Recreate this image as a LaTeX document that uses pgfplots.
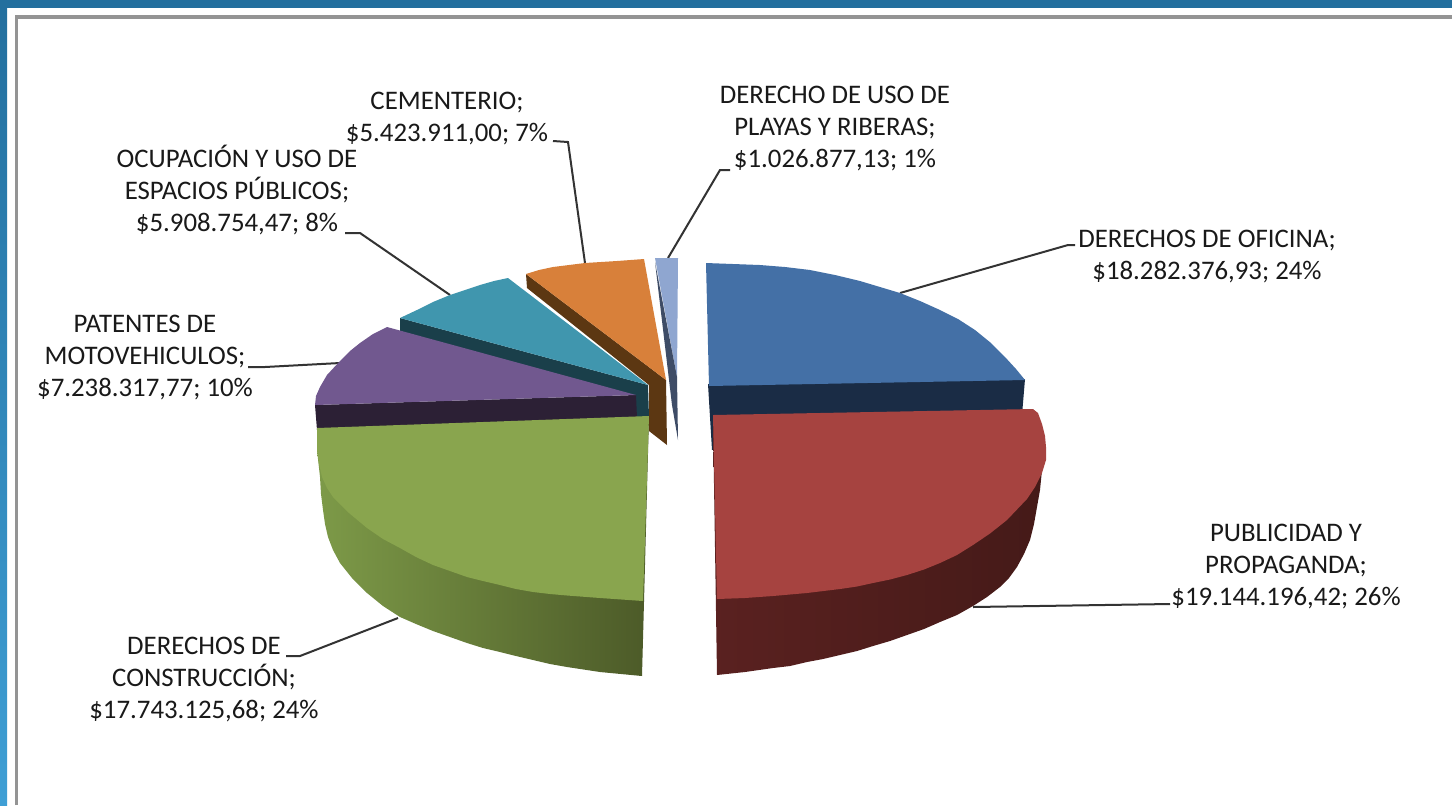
\documentclass[border=0pt]{standalone}
\usepackage{fontspec}
\setmainfont{Carlito}
\usepackage{pgfplots}
\pgfplotsset{compat=1.18}
\definecolor{frameblue}{HTML}{236F9E}
\definecolor{framelight}{HTML}{3F9FD5}
\definecolor{bluetop}{HTML}{4470A6}
\definecolor{blueside}{HTML}{1A2C45}
\definecolor{redtop}{HTML}{A64340}
\definecolor{redsideL}{HTML}{5A2120}
\definecolor{redsideR}{HTML}{451A18}
\definecolor{greentop}{HTML}{89A54E}
\definecolor{greensideL}{HTML}{7D9A48}
\definecolor{greensideM}{HTML}{66803A}
\definecolor{greensideR}{HTML}{4C5A28}
\definecolor{purpletop}{HTML}{71588F}
\definecolor{purpleside}{HTML}{2C2035}
\definecolor{tealtop}{HTML}{4096AE}
\definecolor{tealside}{HTML}{1A3F4A}
\definecolor{orangetop}{HTML}{D8803A}
\definecolor{orangeside}{HTML}{5C3712}
\definecolor{paletop}{HTML}{8FA6D0}
\definecolor{paleside}{HTML}{3E4C66}
\definecolor{leader}{HTML}{333333}
\tikzset{lbl/.style={font=\fontsize{13.4}{16}\selectfont, text=black!90, align=center, inner sep=0pt}}

\begin{document}
\begin{tikzpicture}
\begin{axis}[
    hide axis,
    scale only axis,
    width=726pt,
    height=402.5pt,
    xmin=0, xmax=1452,
    ymin=0, ymax=805,
    y dir=reverse,
    enlargelimits=false,
]
% frame and panel, all in picture pixels
\addplot[fill=white, draw=none] coordinates {(0,0) (1452,0) (1452,805) (0,805)} -- cycle;
\addplot[draw=none, top color=frameblue, bottom color=framelight] coordinates {(0,0) (7,0) (7,805) (0,805)} -- cycle;
\addplot[fill=frameblue, draw=none] coordinates {(0,0) (1452,0) (1452,8) (0,8)} -- cycle;
\addplot[draw=black!42, line width=1.6pt] coordinates {(16.5,805) (16.5,17) (1452,17)};

% leader lines
\addplot[leader, line width=1pt] coordinates {(900,293) (1068,245) (1075,245)};
\addplot[leader, line width=1pt] coordinates {(973,607) (1170,604)};
\addplot[leader, line width=1pt] coordinates {(398,618) (300,656) (286,656)};
\addplot[leader, line width=1pt] coordinates {(340,363) (265,367) (248,367)};
\addplot[leader, line width=1pt] coordinates {(450,295) (360,233) (345,233)};
\addplot[leader, line width=1pt] coordinates {(585,263) (568,142) (553,141)};
\addplot[leader, line width=1pt] coordinates {(668,258) (720,170) (730,170)};

% small slice
\addplot[fill=paletop, draw=none] coordinates {(655,258) (678,258) (677,377)} -- cycle;
\addplot[fill=paleside, draw=none] coordinates {(655,262) (677,377) (678,440) (672,405)} -- cycle;

% orange
\addplot[fill=orangeside, draw=none] coordinates {(526,274) (666,380) (667,445) (649,431) (649,385) (527,288)} -- cycle;
\addplot[fill=orangetop, draw=none] coordinates {(526,274) (539,270) (553,267) (569,265) (585,263) (601,262) (617,261) (644,259) (666,380)} -- cycle;

% teal
\addplot[fill=tealside, draw=none] coordinates {(400,318) (648,385) (649,417) (636,417) (636,397) (400,331)} -- cycle;
\addplot[fill=tealtop, draw=none] coordinates {(400,318) (417,310) (433,302) (450,295) (465,290) (480,285) (494,281) (508,278) (648,385)} -- cycle;

% purple
\addplot[fill=purpleside, draw=none] coordinates {(315,405) (636,395) (637,418) (317,430)} -- cycle;
\addplot[fill=purpletop, draw=none] coordinates {(636,395) (315,405) (316,396) (320,387) (327,375) (340,361) (350,351) (360,343) (373,334) (387,327)} -- cycle;

% green
\addplot[draw=none, left color=greensideL, middle color=greensideM, right color=greensideR] coordinates {
    (317,450) (320,477) (321,494) (323,510) (325,524) (328,537) (333,550) (340,563) (352,578)
    (367,593) (383,606) (400,617) (416,624) (433,631) (450,637) (467,643) (483,648) (500,652)
    (516,656) (533,660) (550,664) (567,667) (600,672) (642,676) (649,416)} -- cycle;
\addplot[fill=greentop, draw=none] coordinates {
    (649,416) (317,428) (317,450) (319,464) (322,477) (327,488) (333,497) (349,513) (367,528)
    (383,539) (400,548) (416,557) (433,565) (450,571) (467,577) (483,581) (500,585) (516,589)
    (533,592) (550,594) (567,595.5) (600,598) (643,601)} -- cycle;

% blue
\addplot[fill=blueside, draw=none] coordinates {(708,384) (1025,379) (1022,415) (712,450)} -- cycle;
\addplot[fill=bluetop, draw=none] coordinates {
    (706,263) (733,264) (760,265) (785,267) (810,270) (835,275) (860,281) (880,287) (900,293)
    (920,301) (940,310) (958,319) (975,330) (991,343) (1005,357) (1016,369) (1025,380) (709,386)} -- cycle;

% red
\addplot[draw=none, left color=redsideL, right color=redsideR] coordinates {
    (713,420) (1042,460) (1042,470) (1040,490) (1037,507) (1034,524) (1030,540) (1024,554) (1017,567)
    (1009,578) (1000,587) (987,597) (973,606) (957,615) (940,622) (924,629) (907,635) (890,641)
    (873,646) (857,651) (840,655) (823,659) (807,662) (790,666) (773,668) (745,672) (717,675)} -- cycle;
\addplot[fill=redtop, draw=none] coordinates {
    (713,415) (1033,409) (1038,413) (1042,424) (1045,436) (1046,447) (1046,460) (1042,473) (1035,487) (1027,499) (1007,520)
    (990,533.5) (973,545) (957,555) (940,563) (924,569.5) (907,575) (890,579.5) (873,583) (857,586.5)
    (840,589) (807,593) (773,596) (745,598) (717,599)} -- cycle;

% labels
\node[lbl] at (axis cs:447,119) {CEMENTERIO;\\\$5.423.911,00; 7\%};
\node[lbl] at (axis cs:835,129) {DERECHO  DE USO DE\\PLAYAS Y RIBERAS;\\\$1.026.877,13; 1\%};
\node[lbl] at (axis cs:237,190) {OCUPACIÓN  Y USO DE\\ESPACIOS PÚBLICOS;\\\$5.908.754,47; 8\%};
\node[lbl] at (axis cs:1207,257) {DERECHOS DE OFICINA;\\\$18.282.376,93; 24\%};
\node[lbl] at (axis cs:145,358) {PATENTES DE\\MOTOVEHICULOS;\\\$7.238.317,77; 10\%};
\node[lbl] at (axis cs:1286,567) {PUBLICIDAD Y\\PROPAGANDA;\\\$19.144.196,42; 26\%};
\node[lbl] at (axis cs:204,680) {DERECHOS DE\\CONSTRUCCIÓN;\\\$17.743.125,68; 24\%};
\end{axis}
\end{tikzpicture}
\end{document}
